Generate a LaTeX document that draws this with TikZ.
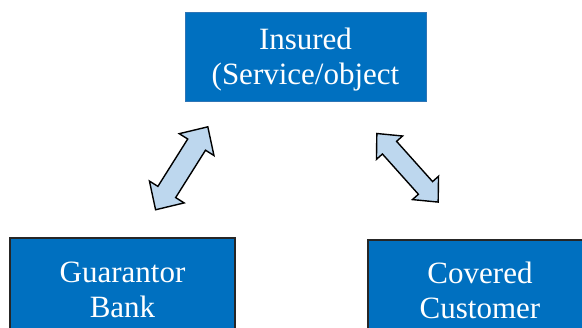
\documentclass[tikz,border=0pt]{standalone}
\usepackage{fontspec}
\setmainfont{Liberation Serif}
\definecolor{boxblue}{HTML}{0070C0}
\definecolor{arrowfill}{HTML}{BDD7EE}
\definecolor{topborder}{HTML}{2E75B6}
\tikzset{
  bluebox/.style={rectangle, fill=boxblue, inner sep=0pt},
  boxtext/.style={text=white, align=center, font=\fontsize{31}{35}\selectfont, inner sep=0pt},
  darkborder/.style={draw=black!85, line width=1.5pt},
  lightborder/.style={draw=topborder, line width=0.8pt},
  dblarrow/.style={fill=arrowfill, draw=black, line width=1.4pt, line join=miter},
}
% center, angle, half length, head length, shaft half width, head half width
\newcommand{\mydblarrow}[6]{%
  \begin{scope}[shift={(#1)}, rotate=#2]
    \draw[dblarrow] (-#3,0) -- (-#3+#4,-#6) -- (-#3+#4,-#5) -- (#3-#4,-#5) -- (#3-#4,-#6)
      -- (#3,0) -- (#3-#4,#6) -- (#3-#4,#5) -- (-#3+#4,#5) -- (-#3+#4,#6) -- cycle;
  \end{scope}}
\begin{document}
\begin{tikzpicture}[x=1pt,y=-1pt]
\useasboundingbox (0,0) rectangle (582,328);
\clip (0,0) rectangle (582,328);
\node[bluebox, lightborder, minimum width=241pt, minimum height=89pt] (insured) at (305.5,56.5) {};
\node[boxtext] (insuredtext) at (305.5,60) {Insured\\(Service/object};
\node[bluebox, darkborder, minimum width=225pt, minimum height=100pt] (bank) at (122.5,288) {};
\node[boxtext] (banktext) at (122.5,290) {Guarantor\\Bank};
\node[bluebox, darkborder, minimum width=224pt, minimum height=100pt] (customer) at (480,290) {};
\node[boxtext] (customertext) at (480,290) {Covered\\Customer};
\mydblarrow{181.7,168.3}{57.8}{49}{21}{10.5}{20.5}
\mydblarrow{407.5,167.8}{-48.2}{46}{19}{9.5}{17.5}
\end{tikzpicture}
\end{document}
